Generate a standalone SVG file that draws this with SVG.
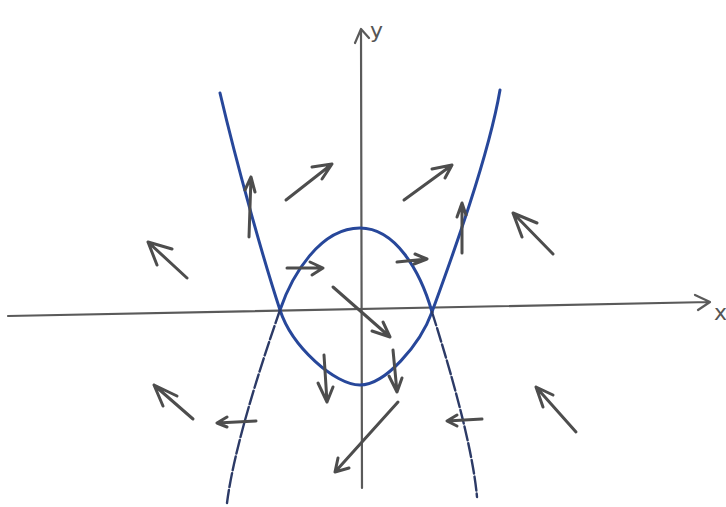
<svg xmlns="http://www.w3.org/2000/svg" width="726" height="507" viewBox="0 0 726 507">
<style>
.ax{fill:none;stroke:#5a5a5a;stroke-width:2.2;stroke-linecap:round;stroke-linejoin:round}
.cv{fill:none;stroke:#27479a;stroke-width:3;stroke-linecap:round}
.cd{fill:none;stroke:#2c3a66;stroke-width:2.4;stroke-linecap:round;stroke-dasharray:14 3}
.ar{fill:none;stroke:#4d4d4d;stroke-width:3;stroke-linecap:round;stroke-linejoin:round}
.lb{font-family:"DejaVu Sans",sans-serif;font-size:22px;fill:#555}
</style>
<rect width="726" height="507" fill="#ffffff"/>
<g id="axes">
<path class="ax" d="M8,316 L710,302 M695,295 L710,302 L698,310"/>
<path class="ax" d="M362,488 L361,30 M355,43 L361,29 L369,38"/>
<text class="lb" x="370" y="38">y</text>
<text class="lb" x="714" y="320">x</text>
</g>
<g id="curves">
<path class="cv" d="M220,93 C237,165 262,255 280,310 C292,347 335,385 360,385 C385,385 420,345 432,312 C448,268 488,160 500,90"/>
<path class="cv" d="M280,310 C292,275 320,228 360,228 C395,228 420,270 432,312"/>
<path class="cd" d="M280,310 C268,345 235,440 227,503"/>
<path class="cd" d="M432,312 C444,350 472,440 477,497"/>
</g>
<g id="connectors">
<path class="ar" d="M286,200 L332,164 M312,167 L332,164 L322,179"/>
<path class="ar" d="M404,200 L452,165 M432,169 L452,165 L445,178"/>
<path class="ar" d="M187,278 L148,242 M172,249 L148,242 L157,265"/>
<path class="ar" d="M553,254 L513,213 M537,223 L513,213 L522,237"/>
<path class="ar" d="M193,419 L154,385 M177,396 L154,385 L163,406"/>
<path class="ar" d="M576,432 L536,387 M553,395 L536,387 L543,407"/>
<path class="ar" d="M249,237 L251,177 M245,190 L251,177 L255,192"/>
<path class="ar" d="M462,253 L462,203 M457,217 L462,203 L466,215"/>
<path class="ar" d="M287,268 L323,268 M310,262 L323,268 L312,275"/>
<path class="ar" d="M397,262 L427,259 M415,254 L427,259 L414,264"/>
<path class="ar" d="M333,287 L390,337 M372,331 L390,337 L383,322"/>
<path class="ar" d="M324,355 L327,402 M318,383 L327,402 L333,387"/>
<path class="ar" d="M393,350 L397,392 M389,376 L397,392 L402,378"/>
<path class="ar" d="M256,421 L217,423 M227,417 L217,423 L227,427"/>
<path class="ar" d="M482,419 L447,421 M457,415 L447,421 L457,426"/>
<path class="ar" d="M398,402 L335,472 M338,458 L335,472 L349,468"/>
</g>
</svg>
